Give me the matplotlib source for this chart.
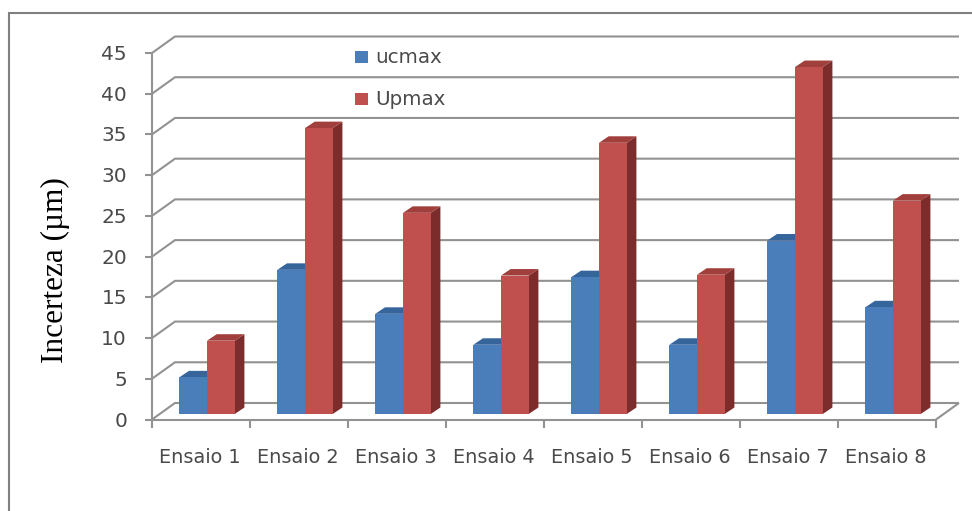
import matplotlib
matplotlib.use("Agg")
import matplotlib.pyplot as plt
from matplotlib.lines import Line2D
from matplotlib.patches import Polygon, Rectangle

categories = ["Ensaio 1", "Ensaio 2", "Ensaio 3", "Ensaio 4",
              "Ensaio 5", "Ensaio 6", "Ensaio 7", "Ensaio 8"]
ucmax = [4.5, 17.7, 12.3, 8.5, 16.8, 8.5, 21.3, 13.1]
upmax = [9.0, 35.1, 24.7, 17.0, 33.3, 17.1, 42.6, 26.2]
y_ticks = [0, 5, 10, 15, 20, 25, 30, 35, 40, 45]

W, H = 972, 511
GRID = "#929292"
TEXT = "#4a4a4a"
BLUE, BLUE_TOP = "#4A7EBB", "#36659C"
RED, RED_TOP, RED_SIDE = "#C0504D", "#A03F3C", "#7C2D2B"

fig = plt.figure(figsize=(W / 100, H / 100), dpi=100, facecolor="white")

# Front plane of the pseudo-3D chart
left, right, bottom, top = 152, 936, 419.5, 53
ax = fig.add_axes([left / W, 1 - bottom / H, (right - left) / W, (bottom - top) / H])
ax.set_xlim(0, len(categories))
ax.set_ylim(0, 45)
ax.axis("off")

# Pixel sizes expressed in data units
ux = len(categories) / (right - left)
uy = 45 / (bottom - top)
wall_dx, wall_dy = 23 * ux, 16.5 * uy
base_dx, base_dy = 6 * ux, 5.5 * uy
depth_dx, depth_dy = 9.7 * ux, 6.5 * uy
bar_w = 27.7 * ux
n = len(categories)


def line(xs, ys, lw=1.5, z=1):
    ax.add_line(Line2D(xs, ys, color=GRID, lw=lw, clip_on=False, zorder=z,
                       solid_capstyle="butt", solid_joinstyle="miter"))


# Back wall gridlines with their slanted returns to the axis
for v in y_ticks:
    line([0, wall_dx, n + wall_dx], [v, v + wall_dy, v + wall_dy])
    line([-7 * ux, 0], [v, v])
    ax.text(-25 * ux, v - 1.5 * uy, str(v), ha="right", va="center", fontsize=14.5,
            color=TEXT, family="DejaVu Sans")

# Floor outline and axes
line([0, n], [0, 0], z=1.5)
line([n, n + wall_dx], [0, wall_dy], z=1.5)
line([0, 0], [0, 45], z=1.5)
for i in range(n + 1):
    line([i, i], [0, -8 * uy], z=1.5)

for i, cat in enumerate(categories):
    ax.text(i + 0.5 - 1 * ux, -38 * uy, cat, ha="center", va="center",
            fontsize=13.9, color=TEXT, family="DejaVu Sans")


def bar3d(x0, value, front, top_col, side, z):
    x1 = x0 + bar_w
    y0, y1 = base_dy, base_dy + value
    ax.add_patch(Polygon([(x1, y0), (x1 + depth_dx, y0 + depth_dy),
                          (x1 + depth_dx, y1 + depth_dy), (x1, y1)],
                         facecolor=side, edgecolor="none", clip_on=False, zorder=z))
    ax.add_patch(Polygon([(x0, y1), (x0 + depth_dx, y1 + depth_dy),
                          (x1 + depth_dx, y1 + depth_dy), (x1, y1)],
                         facecolor=top_col, edgecolor="none", clip_on=False, zorder=z))
    ax.bar(x0, value, bar_w, bottom=y0, align="edge", color=front,
           clip_on=False, zorder=z + 0.1)


# Bars are offset from the front plane by the floor shift
for i, (u, p) in enumerate(zip(ucmax, upmax)):
    start = i + 0.5 + base_dx - bar_w
    bar3d(start, u, BLUE, BLUE_TOP, BLUE_TOP, 3 + i)
    bar3d(start + bar_w, p, RED, RED_TOP, RED_SIDE, 3.3 + i)

# Legend
for label, col, ypix in (("ucmax", BLUE, 57.5), ("Upmax", RED, 99)):
    fig.add_artist(Rectangle((355 / W, 1 - (ypix + 6) / H), 13 / W, 12 / H,
                             transform=fig.transFigure, facecolor=col, edgecolor="none"))
    fig.text(375 / W, 1 - ypix / H, label, ha="left", va="center", fontsize=14.3,
             color=TEXT, family="DejaVu Sans")

# Axis title
fig.text(55 / W, 1 - 270 / H, "Incerteza (µm)", rotation=90, ha="center", va="center",
         fontsize=22.5, color="black", family="Liberation Serif")

# Outer frame, open on the right and at the bottom
fig.add_artist(Line2D([8.5 / W, 8.5 / W, 1], [0, 1 - 13.5 / H, 1 - 13.5 / H],
                      transform=fig.transFigure, color="#808080", lw=1.5,
                      solid_joinstyle="miter"))

fig.savefig("out.png", dpi=100)
